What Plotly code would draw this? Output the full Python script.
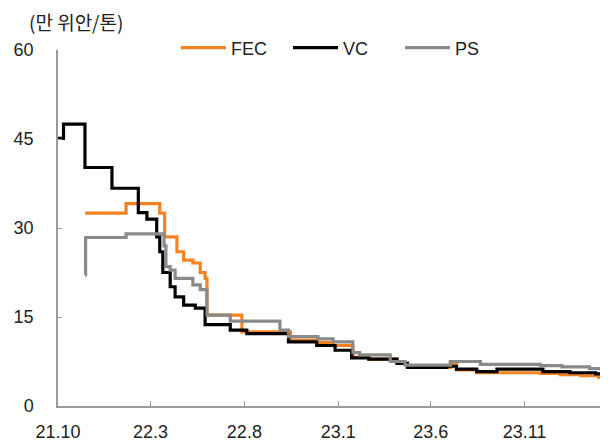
import plotly.graph_objects as go

# ---- data ----
tick_dates = ["2021-10-01", "2022-03-01", "2022-08-01", "2023-01-01", "2023-06-01", "2023-11-01"]
tick_labels = ["21.10", "22.3", "22.8", "23.1", "23.6", "23.11"]

fec_dates = ["2021-11-14", "2022-01-20", "2022-03-16", "2022-03-24", "2022-04-13", "2022-04-24",
             "2022-05-09", "2022-05-21", "2022-05-29", "2022-06-01", "2022-07-28", "2022-10-15",
             "2022-11-27", "2022-12-24", "2023-01-25", "2023-02-20", "2023-04-07", "2023-04-24",
             "2023-07-03", "2023-07-13", "2023-08-15", "2023-11-27", "2023-12-29", "2024-02-01",
             "2024-03-01", "2024-03-05"]
fec_vals = [32.5, 34.1, 32.5, 28.5, 26.0, 24.6,
            24.1, 22.5, 21.5, 15.3, 12.5, 11.1,
            10.7, 10.2, 8.2, 7.9, 7.2, 6.5,
            7.2, 6.1, 5.6, 5.5, 5.3, 5.1,
            4.8, 4.7]

vc_dates = ["2021-10-01", "2021-10-10", "2021-11-14", "2021-12-28", "2022-02-09", "2022-02-23",
            "2022-03-11", "2022-03-16", "2022-03-21", "2022-04-02", "2022-04-10", "2022-04-24",
            "2022-05-13", "2022-05-29", "2022-07-09", "2022-08-05", "2022-10-12", "2022-11-27",
            "2022-12-27", "2023-01-23", "2023-02-20", "2023-04-07", "2023-04-24", "2023-06-27",
            "2023-07-13", "2023-08-15", "2023-09-17", "2023-12-01", "2024-01-14", "2024-02-25",
            "2024-03-05"]
vc_vals = [45.1, 47.5, 40.2, 36.7, 32.6, 31.5,
           28.5, 26.0, 22.5, 20.1, 18.4, 17.0,
           16.5, 13.7, 12.8, 12.2, 10.8, 10.2,
           9.4, 8.1, 7.9, 7.2, 6.5, 6.7,
           6.2, 5.8, 6.2, 5.8, 5.6, 5.4,
           5.4]

ps_dates = ["2021-11-14", "2021-11-15", "2022-01-20", "2022-03-21", "2022-03-23", "2022-03-26",
            "2022-04-02", "2022-04-10", "2022-05-09", "2022-05-21", "2022-06-01", "2022-07-09",
            "2022-09-28", "2022-10-12", "2022-11-29", "2022-12-24", "2023-01-25", "2023-02-05",
            "2023-03-27", "2023-04-20", "2023-07-03", "2023-08-21", "2023-11-27", "2024-01-01",
            "2024-02-15", "2024-03-05"]
ps_vals = [22.1, 28.4, 29.0, 29.0, 27.0, 23.5,
           22.9, 21.5, 20.4, 19.6, 15.3, 14.3,
           12.8, 11.7, 11.3, 10.8, 9.0, 8.6,
           7.5, 6.9, 7.5, 7.0, 6.8, 6.6,
           6.3, 6.0]

series = [
    ("FEC", fec_dates, fec_vals, "#F5821F"),
    ("VC", vc_dates, vc_vals, "#000000"),
    ("PS", ps_dates, ps_vals, "#8A8A8A"),
]

fig = go.Figure()
for name, d, v, c in series:
    fig.add_trace(go.Scatter(x=d, y=v, mode="lines", name=name,
                             line=dict(color=c, width=3.2, shape="hv")))

# the page body adds an 8px margin, so the figure is 8px smaller on each side
FW, FH = 600, 435
axis_col = "#9A9A9A"
fig.update_layout(
    width=FW, height=FH,
    margin=dict(l=50, r=5, t=42, b=37, autoexpand=False),
    plot_bgcolor="white", paper_bgcolor="white",
    font=dict(family="Liberation Sans, Arial, Noto Sans CJK KR", size=18, color="#222222"),
    showlegend=True,
    legend=dict(orientation="h", xref="container", yref="container",
                x=168 / FW, xanchor="left", y=1 - 40 / FH, yanchor="middle",
                font=dict(size=18), itemwidth=45, entrywidth=52,
                bgcolor="rgba(0,0,0,0)"),
)
fig.update_xaxes(type="date", range=["2021-10-01", "2024-03-08"],
                 tickvals=tick_dates, ticktext=tick_labels, automargin=False,
                 showgrid=False, zeroline=False, showline=True, linecolor=axis_col, linewidth=1.5,
                 ticks="inside", ticklen=5, tickcolor=axis_col, tickwidth=1.2,
                 tickfont=dict(size=18), ticklabelstandoff=9)
fig.update_yaxes(range=[0, 60], tickvals=[0, 15, 30, 45, 60], automargin=False,
                 showgrid=False, zeroline=False, showline=True, linecolor=axis_col, linewidth=1.5,
                 ticks="inside", ticklen=4, tickcolor=axis_col, tickwidth=1.2,
                 tickfont=dict(size=18), ticklabelstandoff=19)
fig.add_annotation(text="(만 위안/톤)", xref="paper", yref="paper",
                   x=-31 / 545, y=1 + 44 / 356, xanchor="left", yanchor="top", showarrow=False,
                   font=dict(size=19, family="Noto Sans CJK KR, Liberation Sans", color="#222222"))

fig.write_html("out.html")
